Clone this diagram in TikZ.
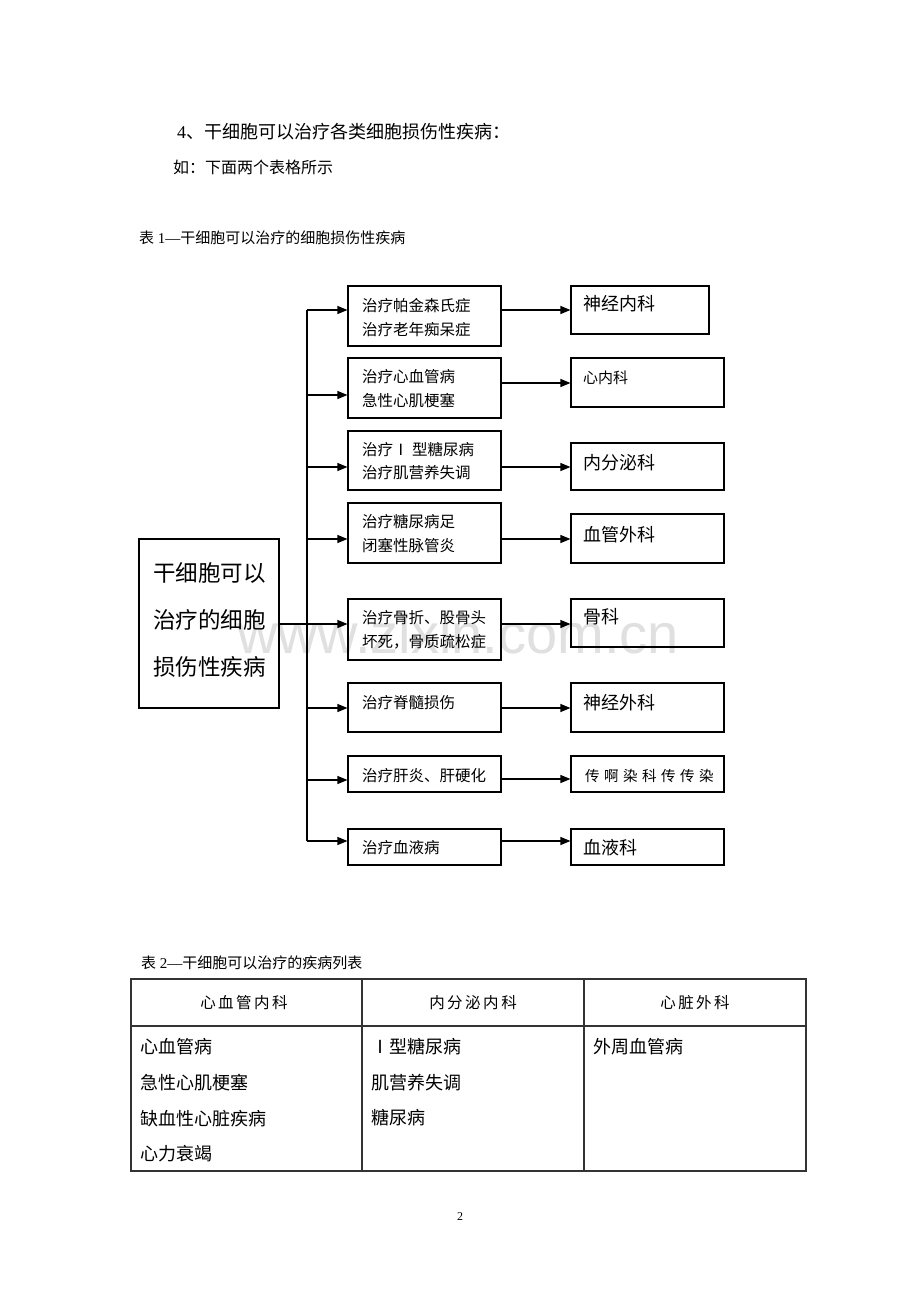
\documentclass[tikz,border=0pt]{standalone}
\usepackage{fontspec}
\setmainfont{Noto Sans CJK SC}
\newfontfamily\lat{Liberation Serif}
\newfontfamily\wmfont{Liberation Sans}
\usetikzlibrary{arrows.meta}
\newcommand\fsz[2]{\fontsize{#1}{#2}\selectfont}
\newcommand\gp{\hspace{4.5pt}}
\newcommand\hg{\hspace{2.5pt}}
\tikzset{
  bx/.style={draw, line width=1.1pt, inner sep=0pt},
  txt/.style={anchor=west, inner sep=0pt, align=left},
  ctxt/.style={anchor=center, inner sep=0pt},
  arr/.style={line width=1.1pt, -{Triangle[length=10pt,width=8pt]}},
  ln/.style={line width=1.1pt},
  tbl/.style={line width=1.2pt, draw=black!80}
}
\begin{document}
\begin{tikzpicture}[x=1pt,y=-1pt]
\useasboundingbox[fill=white] (0,0) rectangle (920,1302);

% watermark
\node[anchor=base, inner sep=0pt, text=black!12, font={\wmfont\fsz{56}{56}}] (wm) at (458,653) {www.zlxin.com.cn};

% heading texts
\node[txt, font={\fsz{18}{18}}] (h1) at (177,132) {{\lat 4}、干细胞可以治疗各类细胞损伤性疾病：};
\node[txt, font={\fsz{16}{16}}] (h2) at (173,167) {如：下面两个表格所示};
\node[txt, font={\fsz{15}{15}}] (c1) at (139,238) {表{\lat\ 1—}干细胞可以治疗的细胞损伤性疾病};

% main box
\node[bx, minimum width=140pt, minimum height=169pt] (main) at (209,623.5) {};
\node[txt, font={\fsz{22.5}{47}}] (maint) at (153,620) {干细胞可以\\治疗的细胞\\损伤性疾病};

% middle boxes
\node[bx, minimum width=153pt, minimum height=60pt] (m1) at (424.5,316) {};
\node[bx, minimum width=153pt, minimum height=60pt] (m2) at (424.5,388) {};
\node[bx, minimum width=153pt, minimum height=59pt] (m3) at (424.5,460.5) {};
\node[bx, minimum width=153pt, minimum height=60pt] (m4) at (424.5,533) {};
\node[bx, minimum width=153pt, minimum height=61pt] (m5) at (424.5,629.5) {};
\node[bx, minimum width=153pt, minimum height=49pt] (m6) at (424.5,707.5) {};
\node[bx, minimum width=153pt, minimum height=36pt] (m7) at (424.5,774) {};
\node[bx, minimum width=153pt, minimum height=36pt] (m8) at (424.5,847) {};

\node[txt, font={\fsz{15.5}{24}}] (m1t) at (362,318) {治疗帕金森氏症\\治疗老年痴呆症};
\node[txt, font={\fsz{15.5}{24}}] (m2t) at (362,389) {治疗心血管病\\急性心肌梗塞};
\node[txt, font={\fsz{15.5}{23}}] (m3t) at (362,461) {治疗Ⅰ 型糖尿病\\治疗肌营养失调};
\node[txt, font={\fsz{15.5}{24}}] (m4t) at (362,534) {治疗糖尿病足\\闭塞性脉管炎};
\node[txt, font={\fsz{15.5}{24}}] (m5t) at (362,630) {治疗骨折、股骨头\\坏死，骨质疏松症};
\node[txt, font={\fsz{15.5}{15.5}}] (m6t) at (362,703) {治疗脊髓损伤};
\node[txt, font={\fsz{15.5}{15.5}}] (m7t) at (362,776) {治疗肝炎、肝硬化};
\node[txt, font={\fsz{15.5}{15.5}}] (m8t) at (362,848) {治疗血液病};

% right boxes
\node[bx, minimum width=138pt, minimum height=48pt] (r1) at (640,310) {};
\node[bx, minimum width=153pt, minimum height=49pt] (r2) at (647.5,382.5) {};
\node[bx, minimum width=153pt, minimum height=47pt] (r3) at (647.5,466.5) {};
\node[bx, minimum width=153pt, minimum height=49pt] (r4) at (647.5,538.5) {};
\node[bx, minimum width=153pt, minimum height=48pt] (r5) at (647.5,623) {};
\node[bx, minimum width=153pt, minimum height=49pt] (r6) at (647.5,707.5) {};
\node[bx, minimum width=153pt, minimum height=36pt] (r7) at (647.5,774) {};
\node[bx, minimum width=153pt, minimum height=36pt] (r8) at (647.5,847) {};

\node[txt, font={\fsz{18}{18}}] (r1t) at (583,304) {神经内科};
\node[txt, font={\fsz{15}{15}}] (r2t) at (583,378) {心内科};
\node[txt, font={\fsz{18}{18}}] (r3t) at (583,463) {内分泌科};
\node[txt, font={\fsz{18}{18}}] (r4t) at (583,535) {血管外科};
\node[txt, font={\fsz{18}{18}}] (r5t) at (583,617) {骨科};
\node[txt, font={\fsz{18}{18}}] (r6t) at (583,703) {神经外科};
\node[txt, font={\fsz{14.5}{14.5}}] (r7t) at (585,776) {传\gp 啊\gp 染\gp 科\gp 传\gp 传\gp 染};
\node[txt, font={\fsz{18}{18}}] (r8t) at (583,848) {血液科};

% levels
\coordinate (t0) at (307,310);
\coordinate (a1) at (0,310);
\coordinate (a2) at (0,395);
\coordinate (a3) at (0,467);
\coordinate (a4) at (0,539);
\coordinate (a5) at (0,624);
\coordinate (a6) at (0,708);
\coordinate (a7) at (0,780);
\coordinate (a8) at (0,841);
\coordinate (b1) at (0,310);
\coordinate (b2) at (0,383);
\coordinate (b3) at (0,467);
\coordinate (b4) at (0,539);
\coordinate (b5) at (0,624);
\coordinate (b6) at (0,708);
\coordinate (b7) at (0,779);
\coordinate (b8) at (0,841);
\coordinate (t1) at (t0 |- a8);

% trunk
\draw[ln] (t0) -- (t1);
% main to m5
\draw[arr] (main.east |- a5) -- (m5.west |- a5);
% trunk to middle
\foreach \i in {1,2,3,4,6,7,8}{
  \draw[arr] (t0 |- a\i) -- (m\i.west |- a\i);
}
% middle to right
\foreach \i in {1,...,8}{
  \draw[arr] (m\i.east |- b\i) -- (r\i.west |- b\i);
}

% table 2
\node[txt, font={\fsz{15}{15}}] (c2) at (141,963) {表{\lat\ 2—}干细胞可以治疗的疾病列表};
\draw[tbl] (131,979) rectangle (806,1171);
\draw[tbl] (131,1026) -- (806,1026);
\draw[tbl] (362,979) -- (362,1171);
\draw[tbl] (584,979) -- (584,1171);
\node[ctxt, font={\fsz{15.5}{15.5}}] (th1) at (244,1003) {心\hg 血\hg 管\hg 内\hg 科};
\node[ctxt, font={\fsz{15.5}{15.5}}] (th2) at (473,1003) {内\hg 分\hg 泌\hg 内\hg 科};
\node[ctxt, font={\fsz{15.5}{15.5}}] (th3) at (695,1003) {心\hg 脏\hg 外\hg 科};
\node[txt, font={\fsz{18}{35.67}}] (tb1) at (140,1100.5) {心血管病\\急性心肌梗塞\\缺血性心脏疾病\\心力衰竭};
\node[txt, font={\fsz{18}{35.5}}] (tb2) at (371,1082.5) {Ⅰ型糖尿病\\肌营养失调\\糖尿病};
\node[txt, font={\fsz{18}{18}}] (tb3) at (593,1047) {外周血管病};

% page number
\node[ctxt, font={\lat\fsz{12}{12}}] (pg) at (460,1217) {2};
\end{tikzpicture}
\end{document}
